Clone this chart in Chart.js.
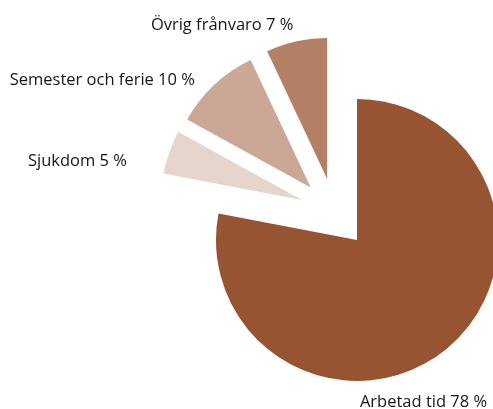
<!DOCTYPE html>
<html>
<head>
<meta charset="utf-8">
<script src="https://cdn.jsdelivr.net/npm/chart.js@4"></script>
<style>
  html, body { margin: 0; padding: 0; background: #fff; }
  #wrap { width: 493px; height: 409px; }
</style>
</head>
<body>
<div id="wrap"><canvas id="pieChart" width="493" height="409"></canvas></div>
<script>
// data
const categories = ['Arbetad tid', 'Sjukdom', 'Semester och ferie', 'Övrig frånvaro'];
const shares = [78, 5, 10, 7];
const colors = ['#975433', '#e6d5cc', '#caa895', '#b38066'];

// exploded slices: direction (deg, clockwise from top) and distance
const explodeAngle = [0, 306, 318.6, 334];
const explodeDist = [0, 68, 70, 68];

// label anchors relative to pie centre: angle (deg), distance, alignment
const labelAngle = [179, 287.8, 313.7, 327.3];
const labelDist = [166.7, 241.6, 224.2, 249.6];
const labelAlign = ['left', 'right', 'right', 'center'];

const toRad = d => d * Math.PI / 180;

const explodePlugin = {
    id: 'explode',
    beforeDatasetDraw(chart, args) {
        const ctx = chart.ctx;
        args.meta.data.forEach((arc, i) => {
            ctx.save();
            ctx.translate(Math.sin(toRad(explodeAngle[i])) * explodeDist[i],
                          -Math.cos(toRad(explodeAngle[i])) * explodeDist[i]);
            arc.draw(ctx);
            ctx.restore();
        });
        return false;
    }
};

const labelPlugin = {
    id: 'sliceLabels',
    afterDatasetsDraw(chart) {
        const ctx = chart.ctx;
        const arc0 = chart.getDatasetMeta(0).data[0];
        const cx = arc0.x, cy = arc0.y;
        ctx.save();
        ctx.font = '16.5px "Open Sans", sans-serif';
        ctx.fillStyle = '#161616';
        ctx.textBaseline = 'alphabetic';
        categories.forEach((name, i) => {
            const a = toRad(labelAngle[i]);
            ctx.textAlign = labelAlign[i];
            ctx.fillText(name + ' ' + shares[i] + ' %',
                cx + Math.sin(a) * labelDist[i],
                cy - Math.cos(a) * labelDist[i]);
        });
        ctx.restore();
    }
};

new Chart(document.getElementById('pieChart'), {
    type: 'pie',
    data: {
        labels: categories,
        datasets: [{
            data: shares,
            backgroundColor: colors,
            borderWidth: 0
        }]
    },
    options: {
        responsive: false,
        animation: false,
        radius: 141,
        layout: { padding: { left: 221, top: 71, right: 0, bottom: 0 } },
        plugins: {
            legend: { display: false },
            tooltip: { enabled: false }
        }
    },
    plugins: [explodePlugin, labelPlugin]
});
</script>
</body>
</html>
